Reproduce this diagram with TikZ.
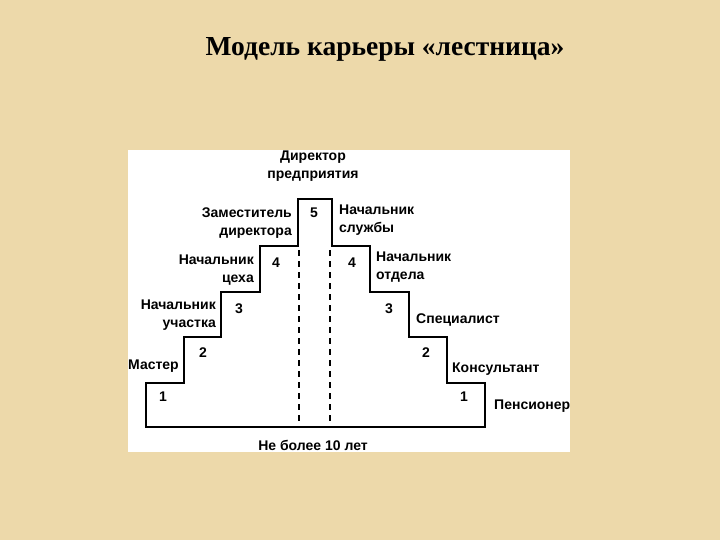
\documentclass[tikz,border=0pt]{standalone}
\usepackage{fontspec}
\setmainfont{Liberation Serif}
\setsansfont{Liberation Sans}
\definecolor{paper}{RGB}{237,217,170}
\tikzset{
  lbl/.style={font=\sffamily\bfseries\fontsize{14}{18}\selectfont, inner sep=0pt, align=#1},
  lbl/.default=center,
  num/.style={font=\sffamily\bfseries\fontsize{14}{16}\selectfont, inner sep=0pt},
  stair/.style={line width=2.2pt, line join=miter},
  cut/.style={line width=2.2pt, dash pattern=on 6pt off 5pt}
}
\begin{document}
\begin{tikzpicture}[x=1pt,y=-1pt]
\fill[paper] (0,0) rectangle (720,540);
\useasboundingbox (0,0) rectangle (720,540);
\node[font=\bfseries\fontsize{27.5}{32}\selectfont, inner sep=0pt] (title) at (385,49) {Модель карьеры «лестница»};
\fill[white] (128,150) rectangle (570,452);
% staircase
\draw[stair] (146,427) -- (146,383) -- (184,383) -- (184,337) -- (221,337) -- (221,292)
  -- (260,292) -- (260,246) -- (298,246) -- (298,199) -- (332,199) -- (332,246)
  -- (370,246) -- (370,292) -- (409,292) -- (409,337) -- (447,337) -- (447,383)
  -- (485,383) -- (485,427) -- cycle;
\coordinate (d1t) at (299,250); \coordinate (d1b) at (299,427);
\coordinate (d2t) at (330,250); \coordinate (d2b) at (330,427);
\draw[cut] (d1t) -- (d1b);
\draw[cut] (d2t) -- (d2b);
% labels
\node[lbl] (dir) at (313,166) {Директор\\предприятия};
\node[lbl=right, anchor=east] (zam) at (292,223) {Заместитель\\директора};
\node[lbl=left, anchor=west] (sl) at (339,220) {Начальник\\службы};
\node[lbl=right, anchor=east] (ceh) at (254,270) {Начальник\\цеха};
\node[lbl=left, anchor=west] (otd) at (376,267) {Начальник\\отдела};
\node[lbl=right, anchor=east] (uch) at (216,315) {Начальник\\участка};
\node[lbl=left, anchor=west] (spec) at (416,320) {Специалист};
\node[lbl=left, anchor=west] (mas) at (128,366) {Мастер};
\node[lbl=left, anchor=west] (kons) at (452,369) {Консультант};
\node[lbl=left, anchor=west] (pens) at (494,406) {Пенсионер};
\node[lbl] (ten) at (313,445) {Не более 10 лет};
% numbers
\node[num] (n5) at (314,213) {5};
\node[num] (n4l) at (276,263) {4};
\node[num] (n4r) at (352,263) {4};
\node[num] (n3l) at (239,309) {3};
\node[num] (n3r) at (389,309) {3};
\node[num] (n2l) at (203,353) {2};
\node[num] (n2r) at (426,353) {2};
\node[num] (n1l) at (163,397) {1};
\node[num] (n1r) at (464,397) {1};
\end{tikzpicture}
\end{document}
